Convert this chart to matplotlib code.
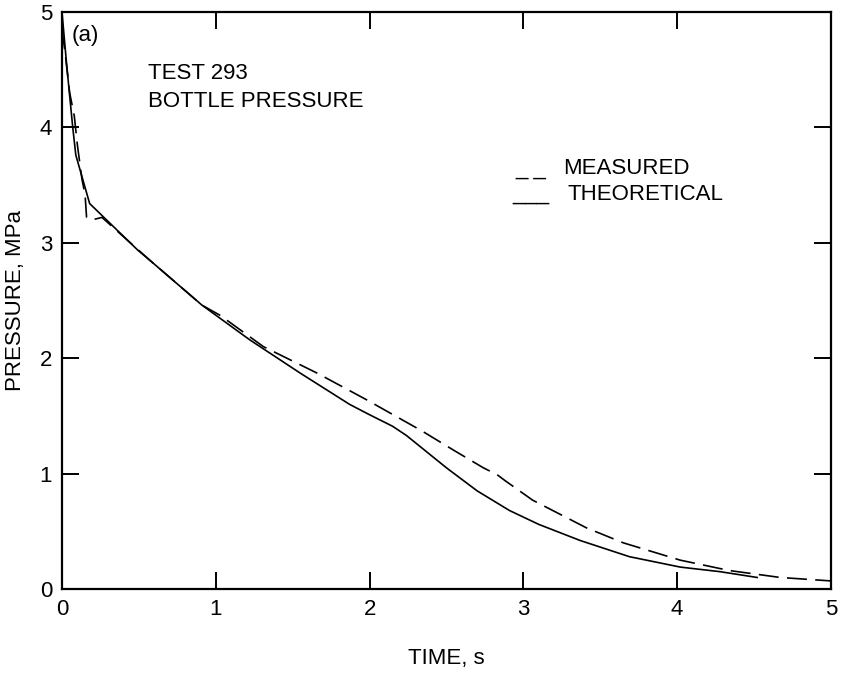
import matplotlib
matplotlib.use("Agg")
import matplotlib.pyplot as plt

# bottle pressure, test 293
theory_t = [0.0, 0.03, 0.07, 0.09, 0.18, 0.49, 0.57, 0.91, 1.22, 1.55, 1.87, 2.0, 2.15, 2.24,
            2.50, 2.70, 2.91, 3.10, 3.37, 3.69, 4.02, 4.28, 4.52]
theory_p = [5.0, 4.55, 4.0, 3.76, 3.34, 2.94, 2.85, 2.46, 2.16, 1.87, 1.60, 1.51, 1.41, 1.33,
            1.05, 0.85, 0.68, 0.56, 0.42, 0.28, 0.19, 0.15, 0.10]

measured_t = [0.0, 0.02, 0.05, 0.08, 0.10, 0.13, 0.15, 0.16, 0.20, 0.26, 0.57, 0.91, 1.03,
              1.31, 1.66, 1.98, 2.22, 2.34, 2.55, 2.74, 2.83, 2.88, 3.06, 3.41, 3.65, 4.02,
              4.34, 4.67, 5.0]
measured_p = [4.85, 4.65, 4.30, 4.10, 3.85, 3.55, 3.42, 3.22, 3.20, 3.22, 2.85, 2.46, 2.37,
              2.10, 1.87, 1.64, 1.46, 1.37, 1.20, 1.05, 0.99, 0.94, 0.77, 0.53, 0.40, 0.25,
              0.16, 0.10, 0.07]

ticks = [0, 1, 2, 3, 4, 5]

plt.rcParams['font.family'] = ['Liberation Sans', 'DejaVu Sans']

fig = plt.figure(figsize=(8.42, 6.73), dpi=100)
ax = fig.add_axes([0.0736, 0.1248, 0.9133, 0.8574])

ax.plot(theory_t, theory_p, color='black', lw=1.2)
ax.plot(measured_t, measured_p, color='black', lw=1.2, dashes=(12, 5))

ax.set_xlim(0, 5)
ax.set_ylim(0, 5)
ax.set_xticks(ticks)
ax.set_yticks(ticks)
ax.tick_params(direction='in', length=12, width=1.4, top=True, right=True,
               labelsize=16, pad=7)
for s in ax.spines.values():
    s.set_linewidth(1.6)

ax.set_xlabel('TIME, s', fontsize=16, labelpad=20)
ax.set_ylabel('PRESSURE, MPa', fontsize=16, labelpad=10)

ax.text(0.06, 4.8, '(a)', fontsize=16, va='center')
ax.text(0.56, 4.47, 'TEST 293', fontsize=16, va='center')
ax.text(0.56, 4.22, 'BOTTLE PRESSURE', fontsize=16, va='center')

# legend drawn as typed underscores
ax.text(2.95, 3.64, '_ _', fontsize=16, va='center')
ax.text(3.26, 3.64, 'MEASURED', fontsize=16, va='center')
ax.text(2.93, 3.42, '___', fontsize=16, va='center')
ax.text(3.29, 3.42, 'THEORETICAL', fontsize=16, va='center')

fig.savefig('out.png', dpi=100)
